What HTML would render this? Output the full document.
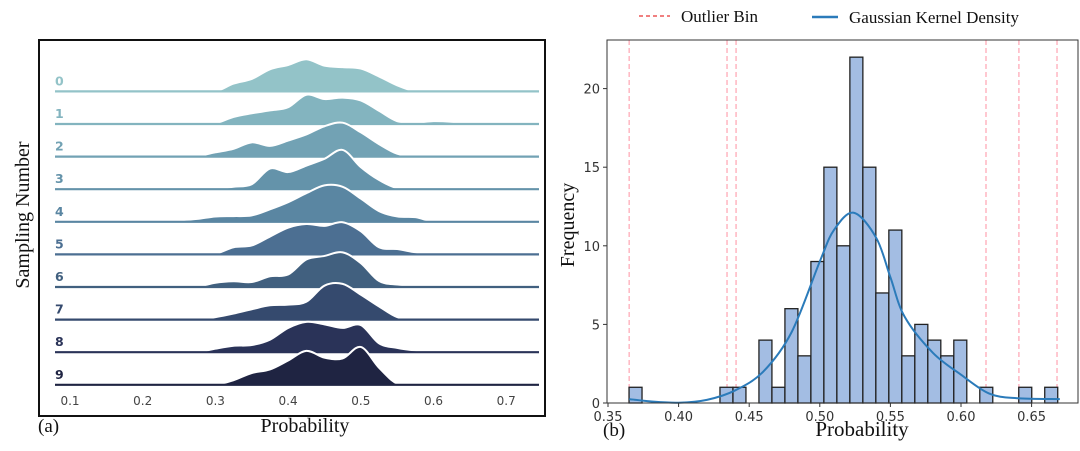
<!DOCTYPE html>
<html><head><meta charset="utf-8"><style>
body{margin:0;background:#fff;width:1080px;height:451px;overflow:hidden}
svg{display:block}
.serif{font-family:"Liberation Serif",serif}
.sans{font-family:"DejaVu Sans","Liberation Sans",sans-serif}
</style></head><body>
<svg id="fig" width="1080" height="451" viewBox="0 0 1080 451">
<g id="left"></g>
<g id="right"></g>
</svg>
<script>
// ---- Ridgeline data (panel a) ----
const ridgeGrid = [0.2,0.225,0.25,0.275,0.3,0.325,0.35,0.375,0.4,0.425,0.45,0.475,0.5,0.525,0.55,0.575,0.6,0.625,0.65,0.675];
const ridgeLabels = ["0","1","2","3","4","5","6","7","8","9"];
const ridge0 = [0,0.02,0.05,0.03,0,0.22,0.35,0.62,0.74,0.9,0.72,0.68,0.64,0.42,0.17,0,0,0,0,0];
const ridge1 = [0,0,0,0,0.02,0.2,0.3,0.38,0.47,0.82,0.7,0.74,0.66,0.37,0.08,0.04,0.08,0.06,0,0];
const ridge2 = [0,0,0,0.02,0.12,0.22,0.4,0.3,0.45,0.62,0.85,0.95,0.68,0.35,0.08,0,0,0,0,0];
const ridge3 = [0,0,0,0,0.02,0.07,0.14,0.58,0.48,0.66,0.85,1.1,0.62,0.26,0.03,0,0,0,0,0];
const ridge4 = [0,0.01,0.04,0.08,0.15,0.16,0.18,0.35,0.55,0.8,1.02,0.98,0.65,0.3,0.15,0.13,0,0,0,0];
const ridge5 = [0,0,0,0,0.02,0.2,0.25,0.5,0.75,0.85,0.8,0.9,0.65,0.2,0.15,0.06,0,0,0,0];
const ridge6 = [0,0,0,0.01,0.12,0.16,0.14,0.3,0.35,0.77,0.87,0.97,0.67,0.17,0.07,0.04,0.04,0.01,0,0];
const ridge7 = [0,0,0,0,0.07,0.17,0.29,0.4,0.42,0.5,0.95,1.0,0.7,0.37,0.07,0,0,0,0,0];
const ridge8 = [0,0,0,0,0.1,0.18,0.2,0.35,0.68,0.85,0.78,0.68,0.76,0.25,0.12,0.05,0.02,0,0,0];
const ridge9 = [0,0,0,0,0,0.13,0.33,0.43,0.68,0.95,0.76,0.74,1.06,0.48,0.03,0,0,0,0,0];
const ridgeSeries = [ridge0,ridge1,ridge2,ridge3,ridge4,ridge5,ridge6,ridge7,ridge8,ridge9];
const ridgeTicks = [0.1,0.2,0.3,0.4,0.5,0.6,0.7];

// ---- Histogram data (panel b) ----
const binStart = 0.3649;
const binWidth = 0.0092;
const binCounts = [1,0,0,0,0,0,0,1,1,0,4,1,6,3,9,15,10,22,15,7,11,3,5,4,3,4,0,1,0,0,1,0,1];
const outlierLines = [0.365,0.4343,0.4407,0.6177,0.641,0.668];
const kdeX = [0.365,0.38,0.40,0.42,0.44,0.46,0.48,0.50,0.51,0.524,0.54,0.55,0.56,0.58,0.60,0.62,0.64,0.67];
const kdeY = [0.25,0.1,0.02,0.2,0.8,2.0,4.5,9,11,12.1,10.5,8,5.5,3.2,1.8,0.6,0.3,0.25];
const histXTicks = [0.35,0.40,0.45,0.50,0.55,0.60,0.65];
const histYTicks = [0,5,10,15,20];

const NS="http://www.w3.org/2000/svg";
function mk(tag,attrs,parent,text){const e=document.createElementNS(NS,tag);for(const k in attrs)e.setAttribute(k,attrs[k]);if(text!==undefined)e.textContent=text;parent.appendChild(e);return e;}
function smooth(pts){let d="M"+pts[0][0]+","+pts[0][1];for(let i=0;i<pts.length-1;i++){const p0=pts[Math.max(0,i-1)],p1=pts[i],p2=pts[i+1],p3=pts[Math.min(pts.length-1,i+2)];const c1=[p1[0]+(p2[0]-p0[0])/6,p1[1]+(p2[1]-p0[1])/6],c2=[p2[0]-(p3[0]-p1[0])/6,p2[1]-(p3[1]-p1[1])/6];d+=" C"+c1[0].toFixed(2)+","+c1[1].toFixed(2)+" "+c2[0].toFixed(2)+","+c2[1].toFixed(2)+" "+p2[0].toFixed(2)+","+p2[1].toFixed(2);}return d;}

// ===== Panel a =====
const L=document.getElementById('left');
const lx=v=>70+(v-0.1)*727;
const base0=91.4, gap=32.6, hScale=35.7;
const colors=["#93c3c8","#83b4bf","#72a2b4","#6493aa","#5a86a2","#4c6f92","#41607f","#354a6e","#2a3358","#1f2442"];
let fr=mk('rect',{x:39,y:40,width:506,height:376,fill:"none",stroke:"#111","stroke-width":2},L);


ridgeSeries.forEach((s,r)=>{
  const by=base0+r*gap;
  const g=mk('g',{},L);
  
  
  const pts=ridgeGrid.map((x,i)=>[lx(x),by-s[i]*hScale]);
  let d=smooth(pts);
  const area=mk('path',{d:d+" L"+lx(ridgeGrid[ridgeGrid.length-1])+","+by+" L"+lx(ridgeGrid[0])+","+by+" Z",fill:colors[r],stroke:"none"},g);
  
  
  const out=mk('path',{d:d,fill:"none",stroke:"#fff","stroke-width":2},g);
  
  
  const bl=mk('line',{x1:55,x2:539,y1:by,y2:by,stroke:colors[r],"stroke-width":2.2},g);
  
  
  const t=mk('text',{x:55,y:by-6,fill:colors[r],"font-size":12.5,"font-weight":"bold",class:"sans"},g,ridgeLabels[r]);
  
  
});
ridgeTicks.forEach(v=>{
  const t=mk('text',{x:lx(v),y:405,"text-anchor":"middle",fill:"#444","font-size":12,class:"sans"},L,v.toFixed(1));
  
  
});
let t1=mk('text',{x:305,y:432,"text-anchor":"middle","font-size":20,fill:"#111",class:"serif"},L,"Probability");


let t2=mk('text',{x:38,y:432,"font-size":19,fill:"#111",class:"serif"},L,"(a)");


let t3=mk('text',{x:0,y:0,"text-anchor":"middle","font-size":20,fill:"#111",class:"serif",transform:"translate(29,215) rotate(-90)"},L,"Sampling Number");



// ===== Panel b =====
const R=document.getElementById('right');
const hx=v=>608+(v-0.35)*1412;
const hy=v=>403-v*15.72;
outlierLines.forEach(v=>{
  const l=mk('line',{x1:hx(v),x2:hx(v),y1:40,y2:403,stroke:"#ffb6c1","stroke-width":1.5,"stroke-dasharray":"5,3"},R);
  
  
});
binCounts.forEach((c,i)=>{
  if(c<=0)return;
  const x0=hx(binStart+i*binWidth),x1=hx(binStart+(i+1)*binWidth);
  const b=mk('rect',{x:x0,y:hy(c),width:x1-x0,height:hy(0)-hy(c),fill:"#a3bde3",stroke:"#222","stroke-width":1.3},R);
  
  
});
const kp=mk('path',{d:smooth(kdeX.map((x,i)=>[hx(x),hy(kdeY[i])])),fill:"none",stroke:"#2b7bba","stroke-width":2},R);


let ax=mk('rect',{x:607,y:40,width:471,height:363,fill:"none",stroke:"#333","stroke-width":1},R);


histXTicks.forEach(v=>{
  mk('line',{x1:hx(v),x2:hx(v),y1:403,y2:407,stroke:"#333"},R);
  const t=mk('text',{x:hx(v),y:421,"text-anchor":"middle","font-size":13,fill:"#333",class:"sans"},R,v.toFixed(2));
  
  
});
histYTicks.forEach(v=>{
  mk('line',{x1:603,x2:607,y1:hy(v),y2:hy(v),stroke:"#333"},R);
  const t=mk('text',{x:600,y:hy(v)+5,"text-anchor":"end","font-size":13,fill:"#333",class:"sans"},R,String(v));
  
  
});
let t4=mk('text',{x:862,y:436,"text-anchor":"middle","font-size":21,fill:"#111",class:"serif"},R,"Probability");


let t5=mk('text',{x:603,y:436,"font-size":19,fill:"#111",class:"serif"},R,"(b)");


let t6=mk('text',{x:0,y:0,"text-anchor":"middle","font-size":20,fill:"#111",class:"serif",transform:"translate(574,225) rotate(-90)"},R,"Frequency");


// legend
const lg=mk('g',{},R);


mk('line',{x1:639,x2:670,y1:16,y2:16,stroke:"#f08080","stroke-width":2,"stroke-dasharray":"4,3"},lg);
let le1=mk('text',{x:681,y:22,"font-size":17,fill:"#111",class:"serif"},lg,"Outlier Bin");


mk('line',{x1:812,x2:838,y1:17,y2:17,stroke:"#2b7bba","stroke-width":2.5},lg);
let le2=mk('text',{x:849,y:23,"font-size":17,fill:"#111",class:"serif"},lg,"Gaussian Kernel Density");


</script>
</body></html>
